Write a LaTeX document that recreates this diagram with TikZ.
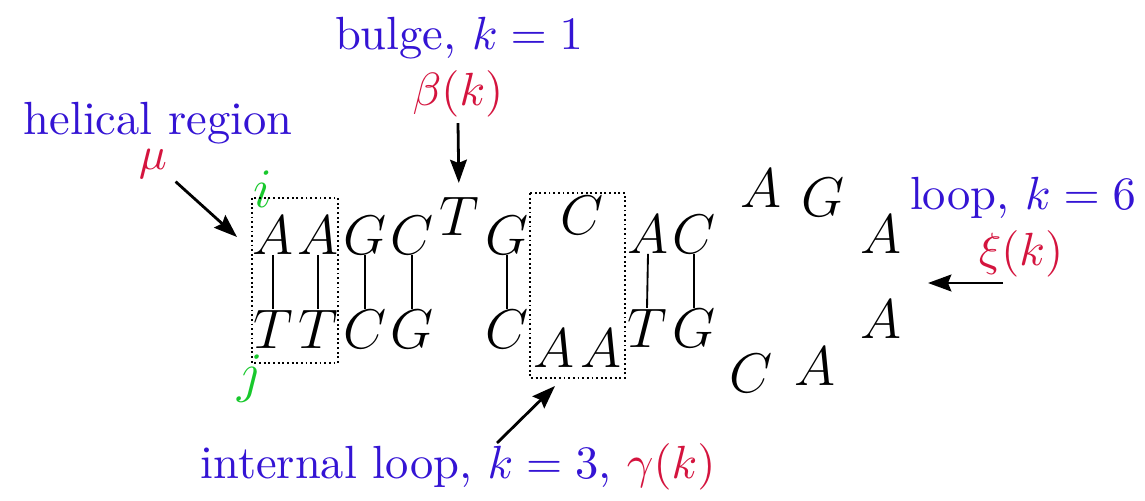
\documentclass[tikz,border=0pt]{standalone}
\usepackage{amsmath,amssymb}
\usepackage{tikz}
\usepackage{xcolor}
\usetikzlibrary{arrows.meta}
\definecolor{lblue}{RGB}{52,20,212}
\definecolor{lred}{RGB}{212,20,62}
\definecolor{lgreen}{RGB}{24,200,44}

\begin{document}
\begin{tikzpicture}[x=0.215pt,y=-0.215pt,
  nt/.style={font=\large,inner sep=0pt,anchor=base},
  lbl/.style={text=lblue,inner sep=1pt,anchor=base},
  idx/.style={text=lgreen,font=\large,inner sep=0pt,anchor=base},
  box/.style={line width=0.5pt,dash pattern=on 0.4pt off 0.6pt},
  pointer/.style={-{Stealth[length=5pt,width=3.6pt,inset=0.7pt]},line width=0.6pt}]
\useasboundingbox (0,0) rectangle (1145,501);
% upper strand
\foreach \n/\x/\y/\s in {t1/273/254/A,t2/318/254/A,t3/365/254/G,t4/412/254/C,t5/459/236/T,
  t6/507/254/G,t7/582/235/C,t8/648/253/A,t9/694/253/C}
  {\node[nt] (\n) at (\x,\y) {$\s$};}
% lower strand
\foreach \n/\x/\y/\s in {b1/273/348/T,b2/318/348/T,b3/365/348/C,b4/412/348/G,b5/507/348/C,
  b6/554/367/A,b7/601/367/A,b8/647/347/T,b9/694/347/G}
  {\node[nt] (\n) at (\x,\y) {$\s$};}
% hairpin loop
\foreach \n/\x/\y/\s in {l1/761/207/A,l2/823/217/G,l3/881/253/A,l4/881/338/A,l5/815/385/A,l6/751/392/C}
  {\node[nt] (\n) at (\x,\y) {$\s$};}
% pairs
\foreach \a/\b in {t1/b1,t2/b2,t3/b3,t4/b4,t6/b5,t8/b8,t9/b9} {\draw[thin] (\a.south)--(\b.north);}
\node[idx] (i) at (263,207) {$i$};
\node[idx] (j) at (250,391) {$j$};
\draw[box] (252,198) rectangle (338,363);
\draw[box] (530,193) rectangle (625,378);
% labels
\node[lbl] (bulge) at (459,50) {bulge, $k=1$};
\node[lbl,text=lred] (beta) at (458,106) {$\beta(k)$};
\node[lbl] (helix) at (158,135) {helical region};
\node[lbl,text=lred] (mu) at (153,170) {$\mu$};
\node[lbl] (loop) at (1023,210) {loop, $k=6$};
\node[lbl,text=lred] (xi) at (1021,265) {$\xi(k)$};
\node[lbl] (intl) at (458,478) {internal loop, $k=3$, \textcolor{lred}{$\gamma(k)$}};
\coordinate (hxtip) at (237,237);
\coordinate (iltail) at (497,443);
\coordinate (iltip) at (555,386);
\coordinate (lptail) at (1003,283);
\coordinate (lptip) at (928,283);
\draw[pointer,shorten >=3pt] (beta.south)--(t5.north);
\draw[pointer] ([shift={(3,-3)}]mu.south east)--(hxtip);
\draw[pointer] (iltail)--(iltip);
\draw[pointer] (lptail)--(lptip);
\end{tikzpicture}
\end{document}
